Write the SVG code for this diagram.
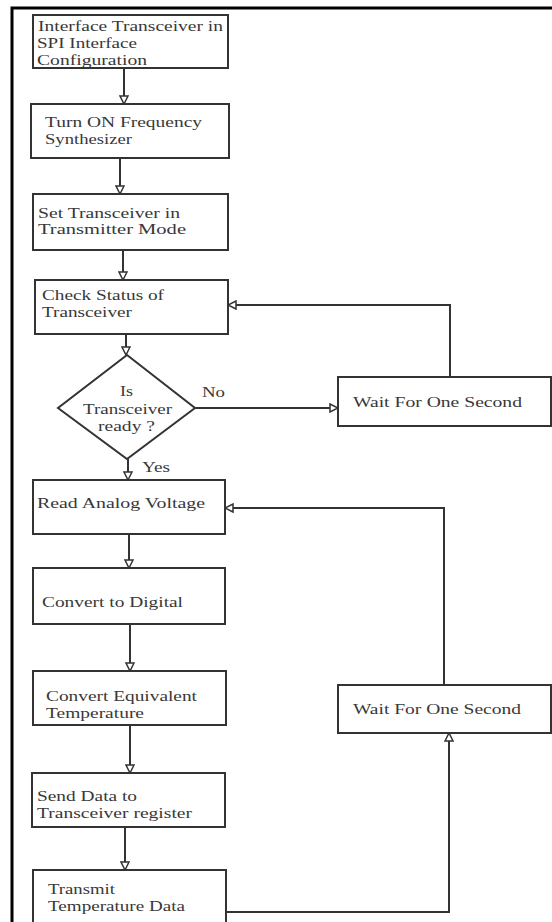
<svg xmlns="http://www.w3.org/2000/svg" width="552" height="922" viewBox="0 0 552 922">
<style>
.box{fill:#fff;stroke:#333;stroke-width:2}
.t{font-family:"Liberation Serif","Times New Roman",serif;font-size:15px;fill:#383838}
.c{fill:none;stroke:#333;stroke-width:2}
.frame{stroke:#000;stroke-width:3;fill:none}
</style>
<defs>
<marker id="ah" markerUnits="userSpaceOnUse" markerWidth="10" markerHeight="10" refX="8" refY="4" orient="auto" viewBox="-1 -1 10 10">
<path d="M0,0 L8,4 L0,8 Z" fill="#fff" stroke="#333" stroke-width="1.5"/>
</marker>
</defs>
<rect width="552" height="922" fill="#fff"/>
<path class="frame" d="M12,922 V8 H552"/>

<g id="connectors">
<line class="c" x1="124" y1="68" x2="124" y2="104" marker-end="url(#ah)"/>
<line class="c" x1="120" y1="158" x2="120" y2="194" marker-end="url(#ah)"/>
<line class="c" x1="123" y1="250" x2="123" y2="280" marker-end="url(#ah)"/>
<line class="c" x1="126" y1="334" x2="126" y2="355" marker-end="url(#ah)"/>
<line class="c" x1="195" y1="408" x2="338" y2="408" marker-end="url(#ah)"/>
<polyline class="c" points="450,377 450,305 228,305" marker-end="url(#ah)"/>
<line class="c" x1="128" y1="459" x2="128" y2="480" marker-end="url(#ah)"/>
<line class="c" x1="129" y1="534" x2="129" y2="568" marker-end="url(#ah)"/>
<line class="c" x1="130" y1="624" x2="130" y2="671" marker-end="url(#ah)"/>
<line class="c" x1="130" y1="725" x2="130" y2="773" marker-end="url(#ah)"/>
<line class="c" x1="125" y1="827" x2="125" y2="870" marker-end="url(#ah)"/>
<polyline class="c" points="226,912 449,912 449,733" marker-end="url(#ah)"/>
<polyline class="c" points="444,685 444,508 225,508" marker-end="url(#ah)"/>
<text class="t" x="202" y="397" textLength="23" lengthAdjust="spacingAndGlyphs">No</text>
<text class="t" x="142" y="472" textLength="28" lengthAdjust="spacingAndGlyphs">Yes</text>
</g>

<g id="n1">
<rect class="box" x="33" y="15" width="195" height="53"/>
<text class="t" x="38" y="31" textLength="185" lengthAdjust="spacingAndGlyphs">Interface Transceiver in</text>
<text class="t" x="37" y="48" textLength="100" lengthAdjust="spacingAndGlyphs">SPI Interface</text>
<text class="t" x="37" y="65" textLength="110" lengthAdjust="spacingAndGlyphs">Configuration</text>
</g>
<g id="n2">
<rect class="box" x="31" y="104" width="198" height="54"/>
<text class="t" x="45" y="127" textLength="157" lengthAdjust="spacingAndGlyphs">Turn ON Frequency</text>
<text class="t" x="45" y="144" textLength="87" lengthAdjust="spacingAndGlyphs">Synthesizer</text>
</g>
<g id="n3">
<rect class="box" x="33" y="194" width="195" height="56"/>
<text class="t" x="38" y="218" textLength="142" lengthAdjust="spacingAndGlyphs">Set Transceiver in</text>
<text class="t" x="38" y="234" textLength="148" lengthAdjust="spacingAndGlyphs">Transmitter Mode</text>
</g>
<g id="n4">
<rect class="box" x="35" y="280" width="193" height="54"/>
<text class="t" x="42" y="300" textLength="122" lengthAdjust="spacingAndGlyphs">Check Status of</text>
<text class="t" x="42" y="317" textLength="90" lengthAdjust="spacingAndGlyphs">Transceiver</text>
</g>
<g id="d1">
<polygon class="box" points="127,355 195,408 127,459 58,408"/>
<text class="t" x="120" y="396" textLength="13" lengthAdjust="spacingAndGlyphs">Is</text>
<text class="t" x="83" y="414" textLength="89" lengthAdjust="spacingAndGlyphs">Transceiver</text>
<text class="t" x="98" y="431" textLength="57" lengthAdjust="spacingAndGlyphs">ready ?</text>
</g>
<g id="w1">
<rect class="box" x="338" y="377" width="213" height="49"/>
<text class="t" x="353" y="407" textLength="169" lengthAdjust="spacingAndGlyphs">Wait For One Second</text>
</g>
<g id="n5">
<rect class="box" x="33" y="480" width="192" height="54"/>
<text class="t" x="37" y="508" textLength="168" lengthAdjust="spacingAndGlyphs">Read Analog Voltage</text>
</g>
<g id="n6">
<rect class="box" x="33" y="568" width="192" height="56"/>
<text class="t" x="42" y="607" textLength="141" lengthAdjust="spacingAndGlyphs">Convert to Digital</text>
</g>
<g id="n7">
<rect class="box" x="33" y="671" width="193" height="54"/>
<text class="t" x="46" y="701" textLength="151" lengthAdjust="spacingAndGlyphs">Convert Equivalent</text>
<text class="t" x="46" y="718" textLength="98" lengthAdjust="spacingAndGlyphs">Temperature</text>
</g>
<g id="n8">
<rect class="box" x="32" y="773" width="193" height="54"/>
<text class="t" x="37" y="801" textLength="100" lengthAdjust="spacingAndGlyphs">Send Data to</text>
<text class="t" x="37" y="818" textLength="155" lengthAdjust="spacingAndGlyphs">Transceiver register</text>
</g>
<g id="n9">
<rect class="box" x="33" y="870" width="193" height="70"/>
<text class="t" x="48" y="894" textLength="67" lengthAdjust="spacingAndGlyphs">Transmit</text>
<text class="t" x="48" y="911" textLength="137" lengthAdjust="spacingAndGlyphs">Temperature Data</text>
</g>
<g id="w2">
<rect class="box" x="338" y="685" width="213" height="48"/>
<text class="t" x="353" y="714" textLength="168" lengthAdjust="spacingAndGlyphs">Wait For One Second</text>
</g>
</svg>
